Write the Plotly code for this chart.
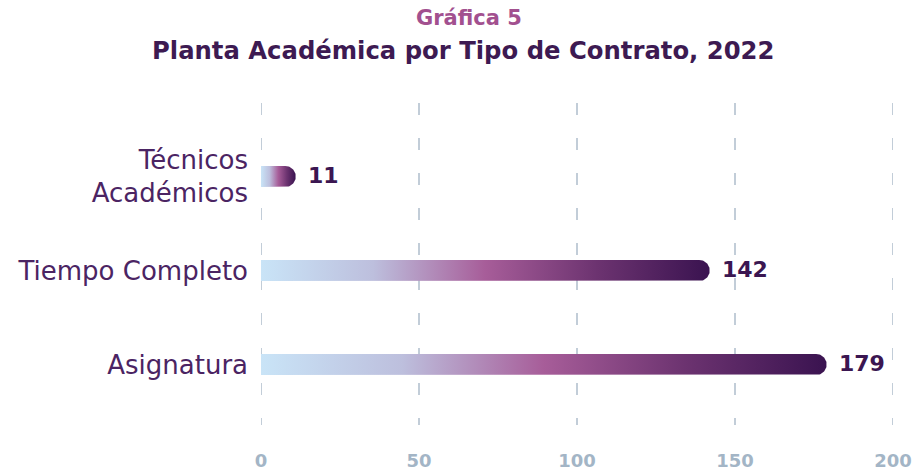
import numpy as np
import plotly.graph_objects as go

# ---- data ----
categories = ["Asignatura", "Tiempo Completo", "Técnicos<br>Académicos"]
values = [179, 142, 11]
x_ticks = [0, 50, 100, 150, 200]

title_main = "Gráfica 5"
title_sub = "Planta Académica por Tipo de Contrato, 2022"

FONT = "DejaVu Sans"

# ---- layout geometry ----
W, H = 915, 472
m_l, m_r, m_t, m_b = 261, 22, 103, 42
plot_w = W - m_l - m_r
plot_h = H - m_t - m_b
x_range = [0, 200]
y_range = [-0.697, 2.782]
px_per_x = plot_w / (x_range[1] - x_range[0])
px_per_y = plot_h / (y_range[1] - y_range[0])

bar_px = 21
half_h = (bar_px / 2) / px_per_y
cap_r = (bar_px / 2) / px_per_x

colorscale = [
    [0.0, "#c9e4f7"],
    [0.25, "#bdbfdd"],
    [0.5, "#a75d99"],
    [0.75, "#6c3370"],
    [1.0, "#3a1350"],
]

fig = go.Figure()

# dashed vertical grid lines
for xv in x_ticks:
    fig.add_shape(
        type="line", xref="x", yref="paper",
        x0=xv, x1=xv, y0=1, y1=(430 - 425) / plot_h,
        line=dict(color="#c2cdd8", width=2, dash="12px,23px"),
        layer="below",
    )

ypos = list(range(len(categories)))
t = np.linspace(-np.pi / 2, np.pi / 2, 40)
for yi, v in zip(ypos, values):
    cx = v - cap_r
    xs = [0, cx] + list(cx + cap_r * np.cos(t)) + [cx, 0, 0]
    ys = [yi - half_h, yi - half_h] + list(yi + half_h * np.sin(t)) + [yi + half_h, yi + half_h, yi - half_h]
    fig.add_trace(go.Scatter(
        x=xs, y=ys, mode="lines", fill="toself",
        line=dict(width=0, color="rgba(0,0,0,0)"),
        fillgradient=dict(type="horizontal", colorscale=colorscale),
        hoverinfo="skip", showlegend=False,
    ))

for yi, v in zip(ypos, values):
    fig.add_annotation(
        x=v, y=yi, text=f"<b>{v}</b>", showarrow=False,
        xanchor="left", yanchor="middle", xshift=10, yshift=1,
        font=dict(family=FONT, size=22, color="#3b1651"),
    )

fig.add_annotation(
    xref="paper", yref="paper", x=(469 - m_l) / plot_w, y=1 + (103 - 18) / plot_h,
    text=f"<b>{title_main}</b>", showarrow=False, xanchor="center", yanchor="middle",
    font=dict(family=FONT, size=21, color="#a2508f"),
)
fig.add_annotation(
    xref="paper", yref="paper", x=(463 - m_l) / plot_w, y=1 + (103 - 50) / plot_h,
    text=f"<b>{title_sub}</b>", showarrow=False, xanchor="center", yanchor="middle",
    font=dict(family=FONT, size=24.3, color="#3d1a52"),
)

fig.update_layout(
    width=W, height=H,
    margin=dict(l=m_l, r=m_r, t=m_t, b=m_b, pad=0, autoexpand=False),
    paper_bgcolor="white", plot_bgcolor="white",
    xaxis=dict(
        range=x_range, tickvals=x_ticks, ticktext=[f"<b>{v}</b>" for v in x_ticks],
        showgrid=False, zeroline=False, showline=False, ticks="",
        tickfont=dict(family=FONT, size=18, color="#a3b5c6"),
        ticklabelstandoff=18, fixedrange=True, automargin=False,
    ),
    yaxis=dict(
        range=y_range, tickvals=ypos, ticktext=categories,
        showgrid=False, zeroline=False, showline=False, ticks="",
        tickfont=dict(family=FONT, size=26, color="#4b2463"),
        ticklabelstandoff=12, fixedrange=True, automargin=False,
    ),
)

fig.write_html(
    "out.html",
    config={"displayModeBar": False},
    post_script="document.body.style.margin='0';document.body.style.overflow='hidden';",
)
